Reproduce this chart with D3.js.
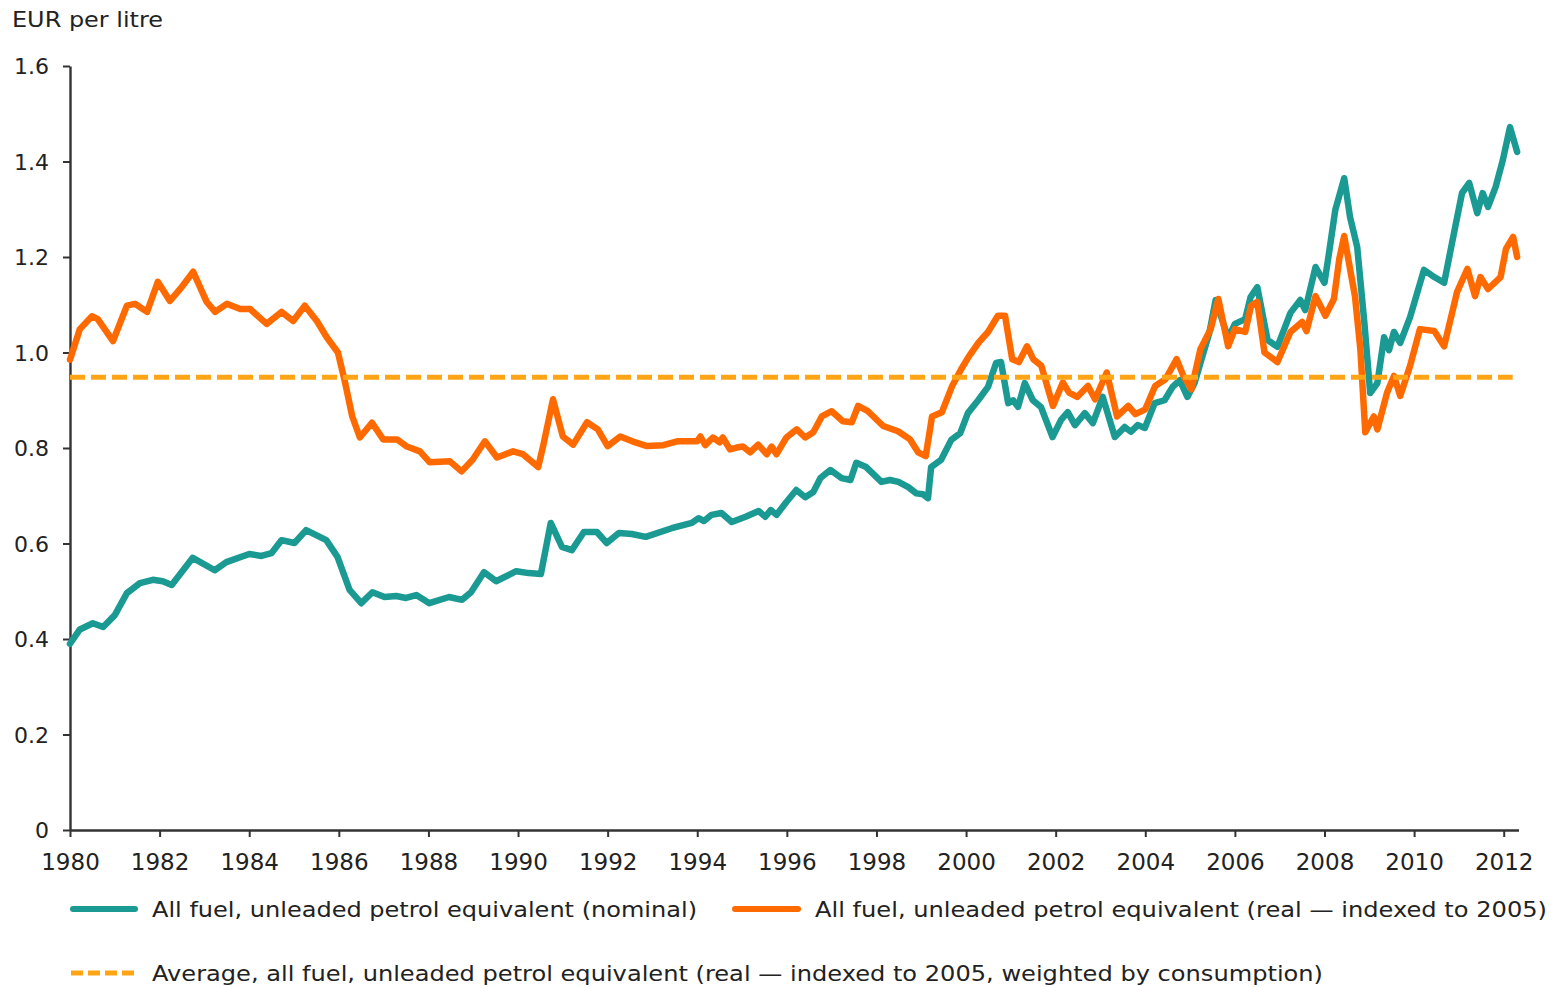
<!DOCTYPE html>
<html><head><meta charset="utf-8">
<script src="https://cdn.jsdelivr.net/npm/d3@7/dist/d3.min.js"></script>
<style>
body{margin:0;background:#fff;}
text{font-family:"DejaVu Sans",Verdana,sans-serif;fill:#222;}
</style></head>
<body><svg id="c" width="1560" height="987"></svg>
<script>
const nominalYears=[1980.0,1980.22,1980.51,1980.74,1981.0,1981.27,1981.56,1981.85,1982.07,1982.27,1982.74,1983.23,1983.49,1984.0,1984.27,1984.5,1984.72,1985.01,1985.27,1985.72,1985.97,1986.24,1986.5,1986.75,1987.02,1987.28,1987.5,1987.73,1988.02,1988.46,1988.75,1988.95,1989.24,1989.51,1989.96,1990.24,1990.51,1990.73,1990.98,1991.2,1991.47,1991.76,1991.98,1992.25,1992.54,1992.85,1993.43,1993.88,1994.03,1994.15,1994.32,1994.54,1994.77,1995.08,1995.37,1995.52,1995.64,1995.77,1995.99,1996.21,1996.41,1996.59,1996.75,1996.97,1997.22,1997.42,1997.55,1997.77,1998.11,1998.3,1998.49,1998.71,1998.89,1999.04,1999.15,1999.22,1999.44,1999.67,1999.87,2000.04,2000.27,2000.49,2000.67,2000.78,2000.94,2001.05,2001.16,2001.31,2001.49,2001.67,2001.93,2002.12,2002.27,2002.43,2002.65,2002.83,2003.05,2003.32,2003.54,2003.68,2003.83,2003.99,2004.21,2004.43,2004.61,2004.77,2004.94,2005.1,2005.23,2005.43,2005.57,2005.85,2006.0,2006.23,2006.35,2006.5,2006.73,2006.95,2007.24,2007.46,2007.57,2007.8,2008.0,2008.1,2008.24,2008.44,2008.57,2008.73,2008.89,2009.02,2009.18,2009.33,2009.44,2009.55,2009.69,2009.91,2010.22,2010.45,2010.67,2010.89,2011.07,2011.23,2011.41,2011.53,2011.65,2011.82,2011.98,2012.14,2012.3];
const nominalValues=[0.39,0.42,0.433,0.425,0.45,0.496,0.517,0.524,0.521,0.513,0.57,0.544,0.561,0.578,0.574,0.58,0.607,0.601,0.628,0.607,0.572,0.503,0.475,0.498,0.488,0.49,0.486,0.492,0.475,0.488,0.482,0.498,0.54,0.521,0.542,0.538,0.536,0.643,0.593,0.586,0.624,0.624,0.601,0.622,0.62,0.614,0.632,0.643,0.653,0.647,0.66,0.664,0.645,0.656,0.668,0.656,0.67,0.66,0.687,0.712,0.697,0.708,0.737,0.754,0.737,0.733,0.769,0.76,0.729,0.733,0.729,0.718,0.705,0.703,0.695,0.76,0.775,0.817,0.831,0.873,0.9,0.928,0.978,0.98,0.894,0.9,0.886,0.936,0.9,0.886,0.823,0.859,0.875,0.848,0.873,0.852,0.907,0.823,0.844,0.834,0.848,0.842,0.894,0.9,0.928,0.942,0.907,0.936,0.978,1.041,1.11,1.03,1.06,1.07,1.116,1.137,1.026,1.012,1.083,1.11,1.089,1.179,1.146,1.208,1.298,1.365,1.284,1.221,1.062,0.915,0.936,1.032,1.005,1.043,1.02,1.074,1.173,1.158,1.146,1.25,1.334,1.355,1.292,1.334,1.305,1.347,1.403,1.472,1.42];

const realYears=[1980.0,1980.22,1980.49,1980.62,1980.96,1981.27,1981.45,1981.72,1981.96,1982.23,1982.46,1982.75,1983.05,1983.24,1983.5,1983.8,1984.02,1984.39,1984.72,1984.98,1985.24,1985.51,1985.73,1985.98,1986.14,1986.3,1986.47,1986.74,1986.99,1987.3,1987.52,1987.81,1988.03,1988.48,1988.74,1988.99,1989.26,1989.53,1989.89,1990.11,1990.45,1990.56,1990.78,1991.0,1991.23,1991.54,1991.78,1992.0,1992.28,1992.55,1992.88,1993.24,1993.55,1994.0,1994.07,1994.18,1994.35,1994.5,1994.57,1994.73,1994.88,1995.02,1995.18,1995.36,1995.55,1995.66,1995.77,1995.99,1996.22,1996.41,1996.59,1996.78,1997.0,1997.25,1997.45,1997.59,1997.81,1998.15,1998.48,1998.75,1998.93,1999.1,1999.24,1999.46,1999.69,1999.89,2000.07,2000.29,2000.49,2000.71,2000.87,2001.03,2001.18,2001.36,2001.5,2001.68,2001.94,2002.16,2002.3,2002.48,2002.72,2002.88,2003.14,2003.37,2003.62,2003.78,2004.0,2004.22,2004.45,2004.7,2004.85,2005.03,2005.23,2005.46,2005.63,2005.85,2006.0,2006.23,2006.36,2006.5,2006.66,2006.95,2007.24,2007.5,2007.6,2007.8,2008.02,2008.21,2008.33,2008.44,2008.57,2008.68,2008.8,2008.91,2009.1,2009.18,2009.4,2009.55,2009.69,2009.91,2010.13,2010.45,2010.67,2010.96,2011.19,2011.36,2011.48,2011.65,2011.93,2012.05,2012.21,2012.3];
const realValues=[0.985,1.049,1.076,1.07,1.024,1.098,1.102,1.085,1.148,1.108,1.133,1.169,1.106,1.085,1.102,1.091,1.091,1.06,1.085,1.066,1.098,1.066,1.032,1.0,0.937,0.866,0.822,0.853,0.818,0.818,0.803,0.793,0.77,0.772,0.751,0.776,0.814,0.78,0.793,0.787,0.76,0.804,0.902,0.824,0.807,0.854,0.839,0.804,0.824,0.814,0.804,0.806,0.814,0.814,0.824,0.806,0.822,0.812,0.822,0.797,0.801,0.803,0.791,0.807,0.787,0.803,0.787,0.822,0.839,0.822,0.833,0.866,0.877,0.856,0.854,0.888,0.877,0.846,0.835,0.818,0.791,0.783,0.866,0.875,0.93,0.965,0.993,1.022,1.043,1.077,1.077,0.986,0.98,1.013,0.986,0.972,0.888,0.937,0.916,0.907,0.93,0.902,0.958,0.866,0.888,0.871,0.881,0.93,0.944,0.986,0.951,0.923,1.007,1.049,1.112,1.013,1.049,1.043,1.098,1.106,1.0,0.98,1.043,1.064,1.045,1.118,1.077,1.112,1.196,1.244,1.175,1.118,1.007,0.833,0.866,0.839,0.917,0.951,0.909,0.972,1.049,1.045,1.013,1.127,1.175,1.118,1.158,1.133,1.158,1.217,1.242,1.2];

const averageYears=[1980.0,2012.2];
const averageValues=[0.948,0.948];

const yTicks=[0,0.2,0.4,0.6,0.8,1.0,1.2,1.4,1.6];
const xTicks=[1980,1982,1984,1986,1988,1990,1992,1994,1996,1998,2000,2002,2004,2006,2008,2010,2012];
const yTitle="EUR per litre";
const seriesNames=["All fuel, unleaded petrol equivalent (nominal)","All fuel, unleaded petrol equivalent (real \u2014 indexed to 2005)","Average, all fuel, unleaded petrol equivalent (real \u2014 indexed to 2005, weighted by consumption)"];

const cTeal="#1a9a92", cOrange="#ff6a00", cAvg="#ffa515";
const svg=d3.select("#c");
const x=d3.scaleLinear().domain([1980,2012.33]).range([70,1518.5]);
const y=d3.scaleLinear().domain([0,1.6]).range([830,66]);

// axes
const xa=svg.append("g").attr("transform","translate(0,830)")
  .call(d3.axisBottom(x).tickValues(xTicks).tickFormat(d3.format("d")).tickSize(7).tickSizeOuter(0).tickPadding(17));
const ya=svg.append("g").attr("transform","translate(70,0)")
  .call(d3.axisLeft(y).tickValues(yTicks).tickFormat(d=>d===0?"0":d3.format(".1f")(d)).tickSize(7).tickSizeOuter(0).tickPadding(14));
[xa,ya].forEach(g=>{
  g.select(".domain").attr("stroke","#333").attr("stroke-width",2.4);
  g.selectAll(".tick line").attr("stroke","#333").attr("stroke-width",2);
  g.selectAll(".tick text").attr("font-size",23).attr("fill","#222").attr("font-family","DejaVu Sans, Verdana, sans-serif");
});
xa.selectAll(".tick text").attr("dy","0.71em").attr("font-size",23);
ya.selectAll(".tick text").attr("dy","0.35em").attr("font-size",22);

svg.append("text").attr("x",12).attr("y",27).attr("font-size",21)
  .attr("textLength",151).attr("lengthAdjust","spacingAndGlyphs").text(yTitle);

function mk(years,vals){return years.map((t,i)=>[t,vals[i]]);}
const line=d3.line().x(d=>x(d[0])).y(d=>y(d[1]));

svg.append("path").datum(mk(nominalYears,nominalValues)).attr("d",line)
  .attr("fill","none").attr("stroke",cTeal).attr("stroke-width",6.5).attr("stroke-linejoin","round").attr("stroke-linecap","round");
svg.append("path").datum(mk(realYears,realValues)).attr("d",line)
  .attr("fill","none").attr("stroke",cOrange).attr("stroke-width",6.5).attr("stroke-linejoin","round").attr("stroke-linecap","round");
svg.append("path").datum(mk(averageYears,averageValues)).attr("d",line)
  .attr("fill","none").attr("stroke",cAvg).attr("stroke-width",5).attr("stroke-dasharray","15,6");

// legend
const lg=svg.append("g");
function legendItem(x0,x1,yy,color,dash,label,tx,tw){
  const l=lg.append("line").attr("x1",x0).attr("x2",x1).attr("y1",yy).attr("y2",yy)
    .attr("stroke",color).attr("stroke-width",dash?5:6).attr("stroke-linecap","round");
  if(dash) l.attr("stroke-dasharray",dash).attr("stroke-linecap","butt");
  lg.append("text").attr("x",tx).attr("y",yy+8).attr("font-size",22)
    .attr("textLength",tw).attr("lengthAdjust","spacingAndGlyphs").text(label);
}
legendItem(73,135,909,cTeal,null,seriesNames[0],152,545);
legendItem(735,798,909,cOrange,null,seriesNames[1],815,732);
legendItem(71,139,973,cAvg,"12,5",seriesNames[2],152,1171);
</script></body></html>
